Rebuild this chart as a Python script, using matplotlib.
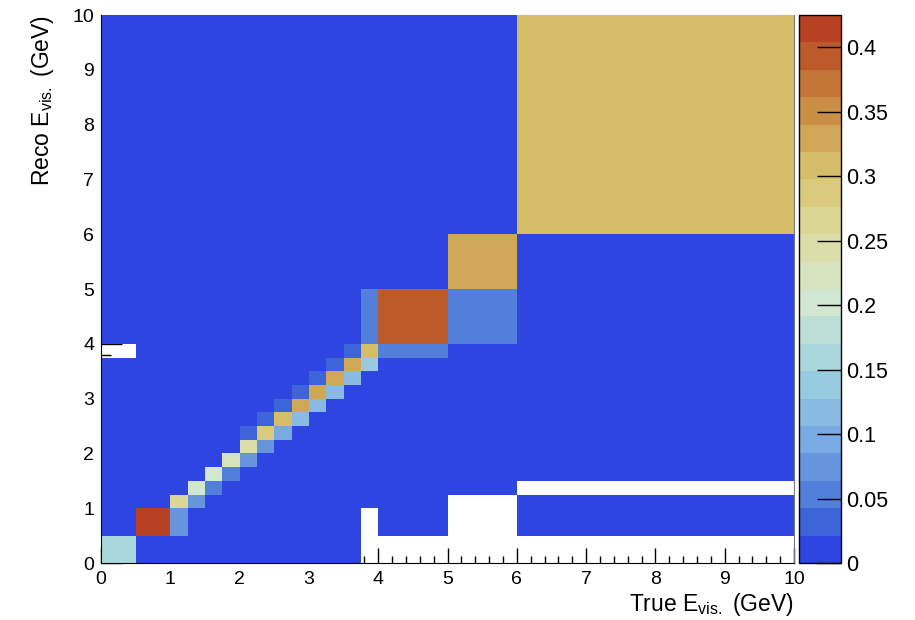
import numpy as np
import matplotlib
matplotlib.use("Agg")
import matplotlib.pyplot as plt
from matplotlib.colors import LinearSegmentedColormap, ListedColormap, Normalize
from matplotlib.ticker import MultipleLocator

plt.rcParams['font.family'] = ['Liberation Sans', 'DejaVu Sans']

# variable bin edges (GeV), same for true and reco axes
bin_edges = [0, 0.5, 1, 1.25, 1.5, 1.75, 2, 2.25, 2.5, 2.75, 3, 3.25, 3.5, 3.75, 4, 5, 6, 10]

# migration matrix: one row per reco bin (bottom to top), one column per true bin
# 0 = empty bin (not drawn)
migration = [
    [0.16, 0.01, 0.01, 0.01, 0.01, 0.01, 0.01, 0.01, 0.01, 0.01, 0.01, 0.01, 0.01, 0, 0, 0, 0],
    [0.01, 0.425, 0.075, 0.01, 0.01, 0.01, 0.01, 0.01, 0.01, 0.01, 0.01, 0.01, 0.01, 0, 0.01, 0, 0.01],
    [0.01, 0.01, 0.265, 0.075, 0.01, 0.01, 0.01, 0.01, 0.01, 0.01, 0.01, 0.01, 0.01, 0.01, 0.01, 0, 0.01],
    [0.01, 0.01, 0.01, 0.20, 0.05, 0.01, 0.01, 0.01, 0.01, 0.01, 0.01, 0.01, 0.01, 0.01, 0.01, 0.01, 0],
    [0.01, 0.01, 0.01, 0.01, 0.20, 0.05, 0.01, 0.01, 0.01, 0.01, 0.01, 0.01, 0.01, 0.01, 0.01, 0.01, 0.01],
    [0.01, 0.01, 0.01, 0.01, 0.01, 0.215, 0.075, 0.01, 0.01, 0.01, 0.01, 0.01, 0.01, 0.01, 0.01, 0.01, 0.01],
    [0.01, 0.01, 0.01, 0.01, 0.01, 0.01, 0.25, 0.075, 0.01, 0.01, 0.01, 0.01, 0.01, 0.01, 0.01, 0.01, 0.01],
    [0.01, 0.01, 0.01, 0.01, 0.01, 0.01, 0.03, 0.29, 0.09, 0.01, 0.01, 0.01, 0.01, 0.01, 0.01, 0.01, 0.01],
    [0.01, 0.01, 0.01, 0.01, 0.01, 0.01, 0.01, 0.03, 0.31, 0.11, 0.01, 0.01, 0.01, 0.01, 0.01, 0.01, 0.01],
    [0.01, 0.01, 0.01, 0.01, 0.01, 0.01, 0.01, 0.01, 0.03, 0.33, 0.115, 0.01, 0.01, 0.01, 0.01, 0.01, 0.01],
    [0.01, 0.01, 0.01, 0.01, 0.01, 0.01, 0.01, 0.01, 0.01, 0.03, 0.33, 0.115, 0.01, 0.01, 0.01, 0.01, 0.01],
    [0.01, 0.01, 0.01, 0.01, 0.01, 0.01, 0.01, 0.01, 0.01, 0.01, 0.03, 0.33, 0.115, 0.01, 0.01, 0.01, 0.01],
    [0.01, 0.01, 0.01, 0.01, 0.01, 0.01, 0.01, 0.01, 0.01, 0.01, 0.01, 0.03, 0.33, 0.135, 0.01, 0.01, 0.01],
    [0, 0.01, 0.01, 0.01, 0.01, 0.01, 0.01, 0.01, 0.01, 0.01, 0.01, 0.01, 0.03, 0.31, 0.05, 0.01, 0.01],
    [0.01, 0.01, 0.01, 0.01, 0.01, 0.01, 0.01, 0.01, 0.01, 0.01, 0.01, 0.01, 0.01, 0.05, 0.395, 0.05, 0.01],
    [0.01, 0.01, 0.01, 0.01, 0.01, 0.01, 0.01, 0.01, 0.01, 0.01, 0.01, 0.01, 0.01, 0.01, 0.01, 0.33, 0.01],
    [0.01, 0.01, 0.01, 0.01, 0.01, 0.01, 0.01, 0.01, 0.01, 0.01, 0.01, 0.01, 0.01, 0.01, 0.01, 0.01, 0.31],
]

cbar_ticks = [0, 0.05, 0.1, 0.15, 0.2, 0.25, 0.3, 0.35, 0.4]
cbar_labels = ["0", "0.05", "0.1", "0.15", "0.2", "0.25", "0.3", "0.35", "0.4"]

# light temperature palette, 20 contour levels
stops = [(31, 40, 234), (71, 117, 214), (123, 171, 228), (160, 211, 222), (210, 231, 210),
         (222, 220, 160), (214, 190, 105), (199, 132, 60), (183, 65, 34)]
base = LinearSegmentedColormap.from_list("lighttemp", [tuple(c / 255 for c in s) for s in stops])
ncont = 20
cmap = ListedColormap([base((i + 0.99) / ncont) for i in range(ncont)])

z = np.ma.masked_equal(np.array(migration), 0)
zmax = z.max()

fig = plt.figure(figsize=(9.15, 6.2), dpi=100)
ax = fig.add_axes([101 / 915, 1 - 563 / 620, 693 / 915, 548 / 620])
cax = fig.add_axes([799 / 915, 1 - 563 / 620, 42 / 915, 548 / 620])

mesh = ax.pcolormesh(bin_edges, bin_edges, z, cmap=cmap, norm=Normalize(0, zmax),
                     linewidth=0, antialiased=False)
ax.set_xlim(0, 10)
ax.set_ylim(0, 10)
# ticks sit under the filled bins, only showing through empty ones
ax.set_axisbelow(True)

for a in (ax.xaxis, ax.yaxis):
    a.set_major_locator(MultipleLocator(1))
    a.set_minor_locator(MultipleLocator(0.2))
ax.tick_params(axis='x', which='major', direction='in', length=11, width=1, labelsize=14, pad=6)
ax.tick_params(axis='x', which='minor', direction='in', length=5, width=1)
ax.tick_params(axis='y', which='major', direction='in', length=15, width=1, labelsize=14, pad=5)
ax.tick_params(axis='y', which='minor', direction='in', length=7, width=1)
ax.spines['top'].set_visible(False)
ax.spines['right'].set_color('#777777')
ax.spines['right'].set_linewidth(0.8)

# the top y tick would poke out above the histogram
fig.canvas.draw()
for t in ax.yaxis.get_major_ticks():
    if abs(t.get_loc() - 10) < 1e-9:
        t.tick1line.set_visible(False)

ax.set_xlabel(r"True E$_{\mathregular{vis.}}$ (GeV)", fontsize=16.5, loc='right', labelpad=2)
ax.set_ylabel(r"Reco E$_{\mathregular{vis.}}$ (GeV)", fontsize=16.5, loc='top', labelpad=12)

cb = fig.colorbar(mesh, cax=cax)
cb.set_ticks(cbar_ticks)
cb.set_ticklabels(cbar_labels)
cb.outline.set_linewidth(1)
cax.tick_params(direction='in', length=17, width=1, labelsize=15.5, pad=4)
cax.minorticks_off()

fig.savefig("out.png", dpi=100)
